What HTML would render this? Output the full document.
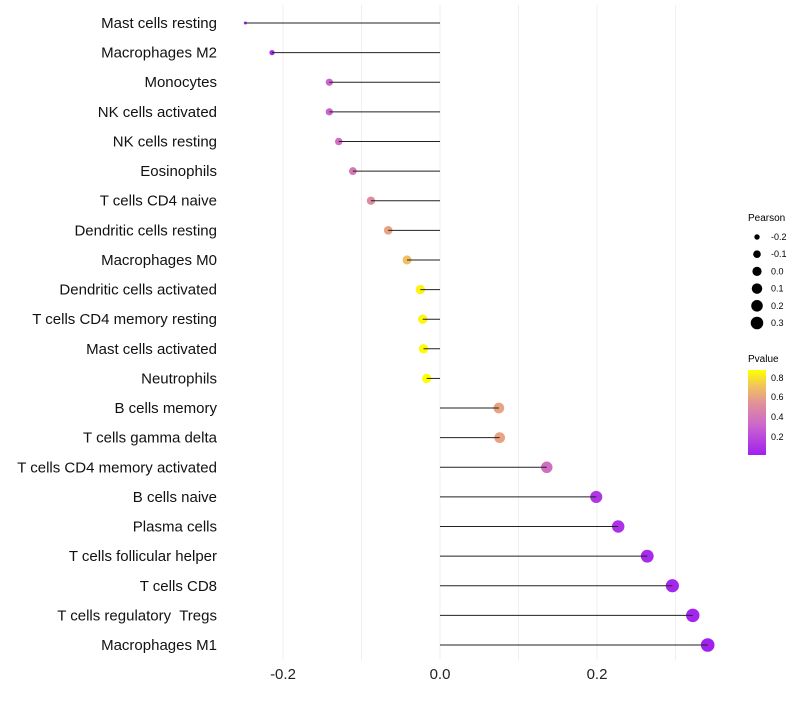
<!DOCTYPE html>
<html><head><meta charset="utf-8"><style>
body{margin:0;background:#fff;font-family:"Liberation Sans",sans-serif}
text{white-space:pre}
</style></head><body>
<svg id="chart" width="800" height="700" xmlns="http://www.w3.org/2000/svg">
<defs><linearGradient id="pg" x1="0" y1="1" x2="0" y2="0">
<stop offset="0" stop-color="#a020f0"/><stop offset="0.35" stop-color="#cc66cc"/><stop offset="0.6" stop-color="#e0909a"/><stop offset="0.8" stop-color="#f0c060"/><stop offset="1" stop-color="#ffff00"/>
</linearGradient></defs>
<g id="grid"></g><g id="marks"></g><g id="labels"></g>
<g id="legP"><text x="748" y="221" font-size="10">Pearson</text></g>
<g><text x="748" y="362" font-size="10">Pvalue</text>
<rect x="748" y="370" width="18" height="85" fill="url(#pg)"/>
<text x="771" y="381" font-size="9">0.8</text><text x="771" y="420" font-size="9">0.4</text><text x="771" y="400" font-size="9">0.6</text><text x="771" y="440" font-size="9">0.2</text></g>
</svg>
<script>
const categories=["Mast cells resting","Macrophages M2","Monocytes","NK cells activated","NK cells resting","Eosinophils","T cells CD4 naive","Dendritic cells resting","Macrophages M0","Dendritic cells activated","T cells CD4 memory resting","Mast cells activated","Neutrophils","B cells memory","T cells gamma delta","T cells CD4 memory activated","B cells naive","Plasma cells","T cells follicular helper","T cells CD8","T cells regulatory  Tregs","Macrophages M1"];
const pearson=[-0.248,-0.214,-0.141,-0.141,-0.129,-0.111,-0.088,-0.066,-0.042,-0.025,-0.022,-0.021,-0.017,0.075,0.076,0.136,0.199,0.227,0.264,0.296,0.322,0.341];
const pvalue=[0.02,0.05,0.3,0.3,0.35,0.4,0.5,0.6,0.7,0.85,0.86,0.87,0.9,0.6,0.6,0.35,0.1,0.08,0.05,0.03,0.02,0.01];
const xTicks=[-0.2,0.0,0.2];
const gridVals=[-0.2,-0.1,0,0.1,0.2,0.3];
const legendVals=[-0.2,-0.1,0.0,0.1,0.2,0.3];
const NS="http://www.w3.org/2000/svg";
const X=v=>440+v*785;
const Y=i=>23+i*(645-23)/(categories.length-1);
const R=v=>1.2+7.3*Math.sqrt(Math.max(0,v+0.25));
const stops=[[0,[160,32,240]],[0.35,[204,102,204]],[0.6,[224,144,154]],[0.8,[240,192,96]],[1,[255,255,0]]];
function col(p){let t=Math.max(0,Math.min(1,p/0.88));for(let k=1;k<stops.length;k++){if(t<=stops[k][0]){const a=stops[k-1],b=stops[k],f=(t-a[0])/(b[0]-a[0]);return"rgb("+a[1].map((c,j)=>Math.round(c+(b[1][j]-c)*f)).join(",")+")";}}return"rgb(255,255,0)";}
function mk(t,a,p){const e=document.createElementNS(NS,t);for(const k in a)e.setAttribute(k,a[k]);p.appendChild(e);return e;}
const grid=document.getElementById('grid'),marks=document.getElementById('marks'),labels=document.getElementById('labels');
gridVals.forEach(v=>{const l=mk('line',{x1:X(v),x2:X(v),y1:5,y2:660,stroke:'#efefef','stroke-width':1},grid);

});
xTicks.forEach(v=>{const t=mk('text',{x:X(v),y:679,'font-size':15,'text-anchor':'middle',fill:'#222'},labels);t.textContent=v.toFixed(1);

});
categories.forEach((c,i)=>{const y=Y(i);
const t=mk('text',{x:217,y:y+5,'font-size':15,'text-anchor':'end',fill:'#111'},labels);t.textContent=c;


const d=mk('circle',{cx:X(pearson[i]),cy:y,r:R(pearson[i]),fill:col(pvalue[i])},marks);


const s=mk('line',{x1:X(0),x2:X(pearson[i]),y1:y,y2:y,stroke:'#222','stroke-width':1},marks);

});
const legP=document.getElementById('legP');
legendVals.forEach((v,i)=>{const y=237+i*17.2;
const c=mk('circle',{cx:757,cy:y,r:R(v)*0.95,fill:'#000'},legP);


const t=mk('text',{x:771,y:y+3,'font-size':9},legP);t.textContent=v.toFixed(1);

});
</script>
</body></html>
